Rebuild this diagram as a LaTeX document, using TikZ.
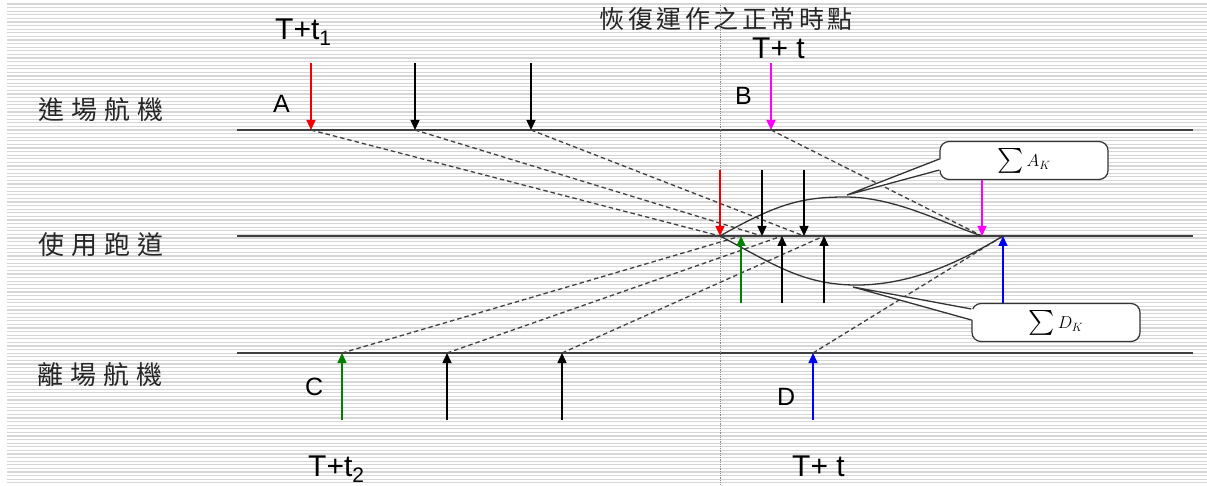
\documentclass[tikz,border=0pt]{standalone}
\usepackage{amsmath}
\usepackage{fontspec}
\setmainfont{Liberation Sans}
\newfontfamily\cjk{Noto Sans CJK TC}
\usetikzlibrary{arrows.meta,calc}
\definecolor{arrred}{RGB}{240,0,0}
\definecolor{arrmag}{RGB}{255,0,255}
\definecolor{arrgreen}{RGB}{0,128,0}
\definecolor{arrblue}{RGB}{0,0,240}

\begin{document}
\begin{tikzpicture}[x=1pt,y=-1pt,
  every node/.style={inner sep=0pt},
  timelbl/.style={font=\fontsize{30}{32}\selectfont,anchor=base west},
  letter/.style={font=\fontsize{25}{27}\selectfont,anchor=base west},
  side/.style={font=\cjk\fontsize{26}{28}\selectfont,text=black!85},
  lane/.style={line width=1.8pt,black!75},
  flow/.style={line width=1.3pt,black!75,dash pattern=on 4.5pt off 3pt},
  arr/.style={line width=1.4pt,-{Triangle[length=10pt,width=9pt]}},
  curve/.style={line width=1.3pt,black!80},
  callbox/.style={draw=black!80,line width=1.2pt,fill=white,rounded corners=9pt,
    minimum width=168pt,minimum height=38pt,font=\fontsize{24}{26}\selectfont}]
\useasboundingbox (0,0) rectangle (1207,486);
% striped background
\fill[white] (0,0) rectangle (1207,486);
\foreach \y in {4,7.6,...,484} \draw[black!16,line width=1.3pt] (7,\y) -- (1207,\y);
% title and lane names
\node[font=\cjk\fontsize{25}{27}\selectfont,text=black!85] (title) at (726,19)
  {恢\hspace{3.5pt}復\hspace{3.5pt}運\hspace{3.5pt}作\hspace{3.5pt}之\hspace{3.5pt}正\hspace{3.5pt}常\hspace{3.5pt}時\hspace{3.5pt}點};
\node[side] (arrlab) at (101,110) {進\hspace{7pt}場\hspace{7pt}航\hspace{7pt}機};
\node[side] (rwylab) at (101,245) {使\hspace{7pt}用\hspace{7pt}跑\hspace{7pt}道};
\node[side] (deplab) at (100,375) {離\hspace{7pt}場\hspace{7pt}航\hspace{7pt}機};
% the three lanes
\draw[lane] (237,130) coordinate (inL) -- (1193,130) coordinate (inR);
\draw[lane] (237,236) coordinate (rwL) -- (1193,236) coordinate (rwR);
\draw[lane] (237,353) coordinate (dpL) -- (1193,353) coordinate (dpR);
% normal operation resumes here
\draw[black!45,densely dotted,line width=0.8pt] (720,5) coordinate (nowT) -- (720,486) coordinate (nowB);
% arrivals on the top lane
\coordinate (sA) at (311,63);  \coordinate (fA) at (311,130);
\coordinate (s1) at (415,63);  \coordinate (f1) at (415,130);
\coordinate (s2) at (531,63);  \coordinate (f2) at (531,130);
\coordinate (sB) at (771,63);  \coordinate (fB) at (771,130);
% departures on the bottom lane
\coordinate (sC) at (342,420); \coordinate (dC) at (342,353);
\coordinate (s3) at (447,420); \coordinate (d3) at (447,353);
\coordinate (s4) at (562,420); \coordinate (d4) at (562,353);
\coordinate (sD) at (813,420); \coordinate (dD) at (813,353);
% runway slots
\coordinate (rA) at (720,236); \coordinate (r1) at (762,236);
\coordinate (r2) at (804,236); \coordinate (rB) at (982,236);
\coordinate (rC) at (741,236); \coordinate (r3) at (782,236);
\coordinate (r4) at (824,236); \coordinate (rD) at (1003,236);
% dashed shifts to the runway
\foreach \a/\b in {fA/rA,f1/r1,f2/r2,fB/rB,dC/rC,d3/r3,d4/r4,dD/rD}
  \draw[flow] (\a) -- (\b);
% spreading envelopes
\draw[curve] (rA) .. controls (775,205) and (800,197) .. (845,197) coordinate (tipA)
  .. controls (895,197) and (940,222) .. (rB);
\draw[curve] (rA) .. controls (770,262) and (800,284) .. (853,285) coordinate (tipD)
  .. controls (910,286) and (960,262) .. (rD);
% callouts
\node[callbox] (sumA) at (1024,160.5) {$\sum$\hspace{3pt}{\fontsize{18}{20}\selectfont$A_K$}};
\fill[white] ([shift={(2,-1.5)}]sumA.west) -- ([shift={(2,-2)}]tipA) -- ([shift={(2,9.5)}]sumA.west) -- cycle;
\draw[curve] ([shift={(0,-1.5)}]sumA.west) -- ([shift={(2,-2)}]tipA) -- ([shift={(0,9.5)}]sumA.west);
\node[callbox] (sumD) at (1056,322.5) {$\sum$\hspace{3pt}{\fontsize{18}{20}\selectfont$D_K$}};
\fill[white] ([shift={(2,-13.5)}]sumD.west) -- ([shift={(0,2)}]tipD) -- ([shift={(2,-2.5)}]sumD.west) -- cycle;
\draw[curve] ([shift={(0,-13.5)}]sumD.west) -- ([shift={(0,2)}]tipD) -- ([shift={(0,-2.5)}]sumD.west);
% arrows on the top lane
\draw[arr,arrred] (sA) -- (fA);
\draw[arr] (s1) -- (f1);
\draw[arr] (s2) -- (f2);
\draw[arr,arrmag] (sB) -- (fB);
% arrows on the bottom lane
\draw[arr,arrgreen] (sC) -- (dC);
\draw[arr] (s3) -- (d3);
\draw[arr] (s4) -- (d4);
\draw[arr,arrblue] (sD) -- (dD);
% arrows on the runway
\draw[arr,arrred] (720,170) coordinate (qA) -- (rA);
\draw[arr] (762,170) coordinate (q1) -- (r1);
\draw[arr] (804,170) coordinate (q2) -- (r2);
\draw[arr,arrmag] (sumA.south -| rB) -- (rB);
\draw[arr,arrgreen] (741,303) coordinate (qC) -- (rC);
\draw[arr] (782,303) coordinate (q3) -- (r3);
\draw[arr] (824,303) coordinate (q4) -- (r4);
\draw[arr,arrblue] (sumD.north -| rD) -- (rD);
% letters and times
\node[letter] (labA) at (273,113) {A};
\node[letter] (labB) at (735,105) {B};
\node[letter] (labC) at (305,395) {C};
\node[letter] (labD) at (777,405) {D};
\node[timelbl] (tA) at (275,40) {T+t\textsubscript{1}};
\node[timelbl] (tB) at (752,59) {T+ t};
\node[timelbl] (tC) at (308,476) {T+t\textsubscript{2}};
\node[timelbl] (tD) at (792,476) {T+ t};
\end{tikzpicture}
\end{document}
